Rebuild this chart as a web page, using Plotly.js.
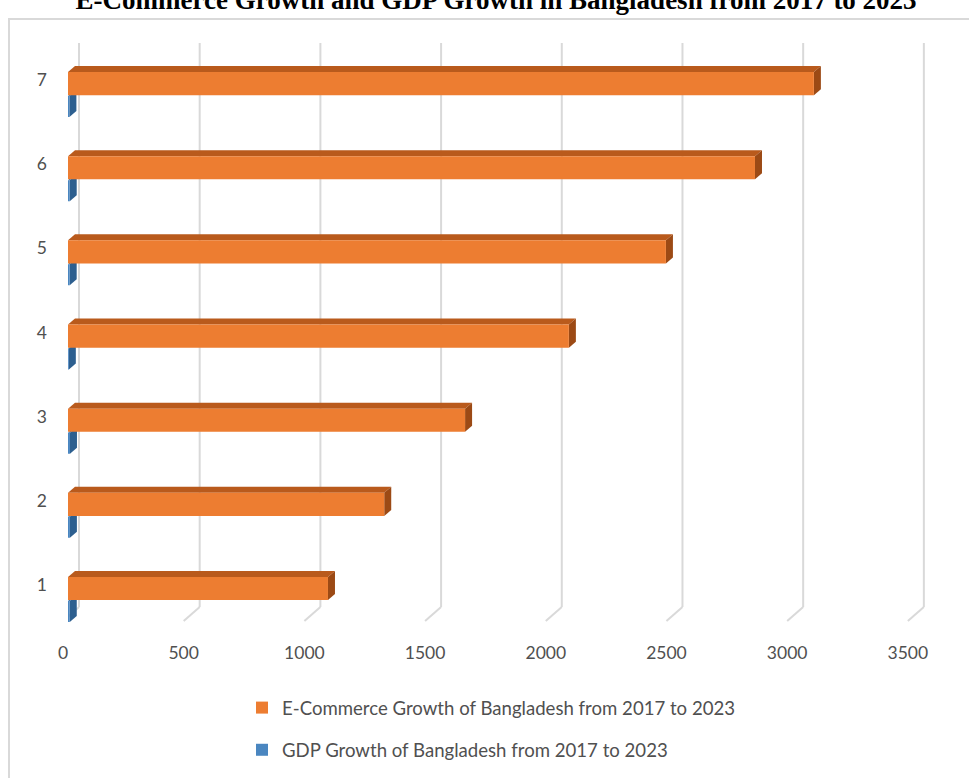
<!DOCTYPE html>
<html>
<head>
<meta charset="utf-8">
<script src="https://cdn.plot.ly/plotly-3.0.1.min.js"></script>
<style>html,body{margin:0;padding:0;background:#fff;}#chart{width:969px;height:778px;}</style>
</head>
<body>
<div id="chart"></div>
<script>
// ---- data ----
const categories = [1, 2, 3, 4, 5, 6, 7];
const ecommerceValues = [1077, 1310, 1645, 2075, 2477, 2846, 3090];
const gdpValues = [7.28, 7.86, 8.15, 3.45, 6.94, 7.10, 5.78];
const xTickValues = [0, 500, 1000, 1500, 2000, 2500, 3000, 3500];
const yTickLabels = ['1', '2', '3', '4', '5', '6', '7'];
const ecommerceName = 'E-Commerce Growth of Bangladesh from 2017 to 2023';
const gdpName = 'GDP Growth of Bangladesh from 2017 to 2023';
const titleText = 'E-Commerce Growth and GDP Growth in Bangladesh from 2017 to 2023';

// ---- layout geometry ----
const W = 969, H = 778;
const M = {l: 68, r: 32, t: 43, b: 156, autoexpand: false};
const plotW = W - M.l - M.r, plotH = H - M.t - M.b;
const xRange = [0, 3600];
const yRange = [0.56, 7.44];
const pxX = plotW / (xRange[1] - xRange[0]);
const pxY = plotH / (yRange[1] - yRange[0]);
const depthX = 7 / pxX, depthY = 6 / pxY;

const orangeOffset = -0.18, orangeWidth = 0.275;
const blueOffset = -0.44, blueWidth = 0.25;

function paperX(px) { return (px - M.l) / plotW; }
function paperY(py) { return (H - M.b - py) / plotH; }

const shapes = [];
// outer frame
shapes.push({type: 'rect', xref: 'paper', yref: 'paper', x0: paperX(9), x1: paperX(990), y0: paperY(800), y1: paperY(19),
  line: {color: '#d9d9d9', width: 2}, fillcolor: 'rgba(0,0,0,0)', layer: 'below'});
// back-wall gridlines and floor diagonals
xTickValues.forEach(v => {
  shapes.push({type: 'line', xref: 'x', xsizemode: 'pixel', xanchor: v, x0: 11, x1: 11,
    yref: 'paper', y0: paperY(607), y1: 1, line: {color: '#d9d9d9', width: 2}, layer: 'below'});
  shapes.push({type: 'line', xref: 'x', xsizemode: 'pixel', xanchor: v, x0: 11, x1: -5,
    yref: 'paper', y0: paperY(607), y1: paperY(621), line: {color: '#d9d9d9', width: 2}, layer: 'below'});
});
// 3D faces for bars
function faces(vals, off, wid, topCol, sideCol) {
  categories.forEach((c, i) => {
    const v = vals[i];
    const bot = c + off, top = c + off + wid;
    shapes.push({type: 'path', xref: 'x', yref: 'y', layer: 'below', line: {width: 0}, fillcolor: topCol,
      path: `M 0,${top} L ${depthX},${top + depthY} L ${v + depthX},${top + depthY} L ${v},${top} Z`});
    shapes.push({type: 'path', xref: 'x', yref: 'y', layer: 'below', line: {width: 0}, fillcolor: sideCol,
      path: `M ${v},${top} L ${v + depthX},${top + depthY} L ${v + depthX},${bot + depthY} L ${v},${bot} Z`});
  });
}
faces(gdpValues, blueOffset, blueWidth, '#3d6f9e', '#2d5f8f');
faces(ecommerceValues, orangeOffset, orangeWidth, '#b95a1c', '#9c4a15');

const traces = [
  {type: 'bar', orientation: 'h', name: gdpName, y: categories, x: gdpValues,
   offset: blueOffset, width: blueWidth, marker: {color: '#4a86c0', line: {width: 0}},
   legendrank: 2, legendgroup: 'g'},
  {type: 'bar', orientation: 'h', name: ecommerceName, y: categories, x: ecommerceValues,
   offset: orangeOffset, width: orangeWidth, marker: {color: '#ed7d31', line: {width: 0}},
   legendrank: 1, legendgroup: 'e'}
];

const tickFont = {family: 'Lato, "Liberation Sans", sans-serif', size: 17.5, color: '#505050'};

const layout = {
  width: W, height: H,
  margin: M,
  paper_bgcolor: '#ffffff', plot_bgcolor: 'rgba(0,0,0,0)',
  barmode: 'overlay',
  title: {text: '<b>' + titleText + '</b>', font: {family: '"Liberation Serif", "Times New Roman", serif', size: 27, color: '#000000'},
          x: 0.512, xref: 'container', xanchor: 'center', y: 1, yref: 'container', yanchor: 'middle', automargin: false},
  xaxis: {range: xRange, tickvals: xTickValues, ticktext: xTickValues.map(String), showgrid: false, zeroline: false,
          showline: false, ticks: '', tickfont: tickFont, tickangle: 0, ticklabelshift: -5, ticklabelstandoff: 18, fixedrange: true, automargin: false},
  yaxis: {range: yRange, tickvals: categories, ticktext: yTickLabels, showgrid: false, zeroline: false,
          showline: false, ticks: '', tickfont: tickFont, ticklabelstandoff: 20, fixedrange: true, automargin: false},
  showlegend: true,
  legend: {orientation: 'v', xref: 'container', yref: 'container', x: 242 / W, xanchor: 'left',
           y: 1 - 689 / H, yanchor: 'top', traceorder: 'grouped', tracegroupgap: 15,
           font: {family: 'Lato, "Liberation Sans", sans-serif', size: 18.6, color: '#505050'},
           bgcolor: 'rgba(0,0,0,0)'},
  shapes: shapes
};

Plotly.newPlot('chart', traces, layout, {displayModeBar: false, staticPlot: true});
</script>
</body>
</html>
